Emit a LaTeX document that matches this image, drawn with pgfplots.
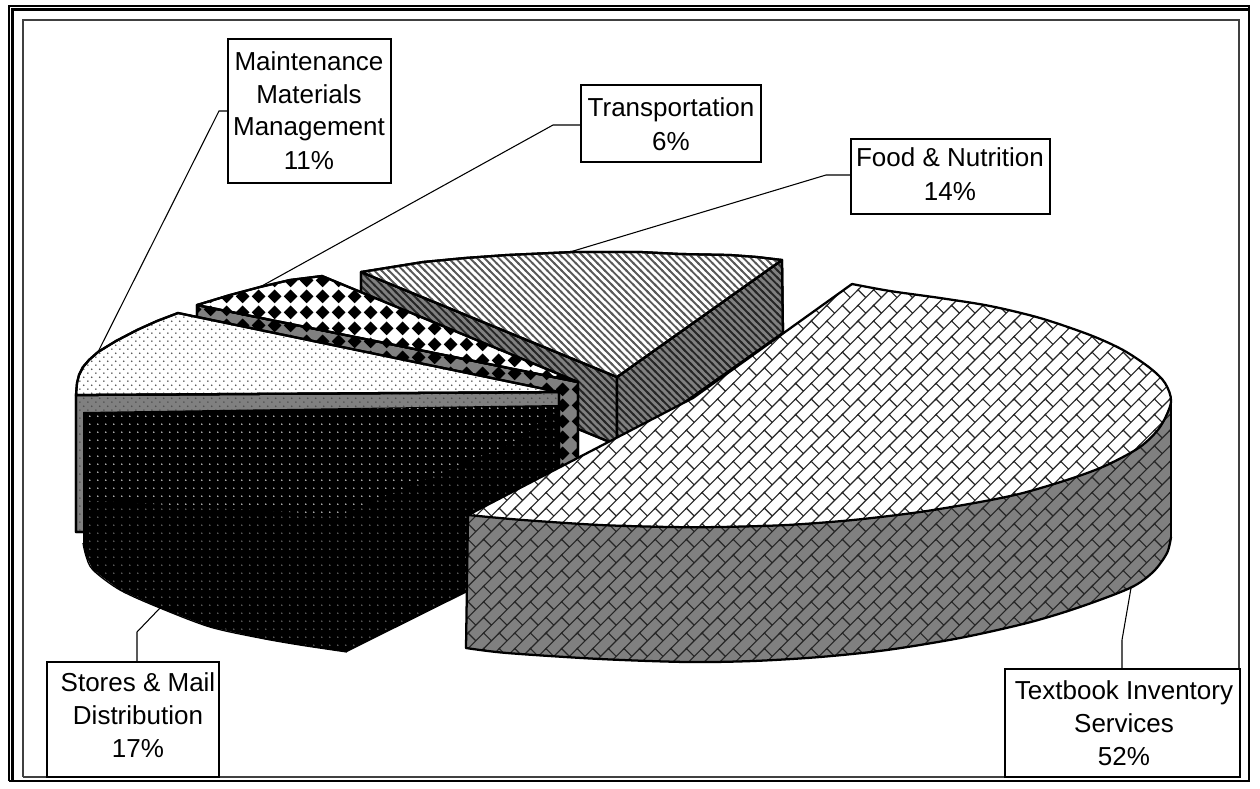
\documentclass[border=0pt]{standalone}
\usepackage{fontspec}
\setmainfont{Liberation Sans}
\usepackage{pgfplots}
\pgfplotsset{compat=1.18}
\usetikzlibrary{patterns}
\pgfdeclarepatternformonly{brickd}{\pgfqpoint{-1bp}{-1bp}}{\pgfqpoint{12.7bp}{12.7bp}}{\pgfqpoint{11.7bp}{11.7bp}}{
  \pgfsetlinewidth{0.85bp}
  \pgfpathmoveto{\pgfqpoint{-1bp}{-1bp}}\pgfpathlineto{\pgfqpoint{12.7bp}{12.7bp}}
  \pgfpathmoveto{\pgfqpoint{0bp}{11.7bp}}\pgfpathlineto{\pgfqpoint{5.85bp}{5.85bp}}
  \pgfusepath{stroke}}
\pgfdeclarepatternformonly{diam}{\pgfqpoint{0bp}{0bp}}{\pgfqpoint{11.7bp}{11.7bp}}{\pgfqpoint{11.7bp}{11.7bp}}{
  \pgfpathmoveto{\pgfqpoint{5.85bp}{0.6bp}}\pgfpathlineto{\pgfqpoint{11.1bp}{5.85bp}}
  \pgfpathlineto{\pgfqpoint{5.85bp}{11.1bp}}\pgfpathlineto{\pgfqpoint{0.6bp}{5.85bp}}\pgfpathclose
  \pgfusepath{fill}}
\pgfdeclarepatternformonly{stripesd}{\pgfqpoint{-1bp}{-1bp}}{\pgfqpoint{6.4bp}{6.4bp}}{\pgfqpoint{5.4bp}{5.4bp}}{
  \pgfsetlinewidth{1.4bp}
  \pgfpathmoveto{\pgfqpoint{-1bp}{6.4bp}}\pgfpathlineto{\pgfqpoint{6.4bp}{-1bp}}
  \pgfusepath{stroke}}
\pgfdeclarepatternformonly{mdots}{\pgfqpoint{0bp}{0bp}}{\pgfqpoint{5.85bp}{5.85bp}}{\pgfqpoint{5.85bp}{5.85bp}}{
  \pgfpathcircle{\pgfqpoint{1.46bp}{1.46bp}}{0.62bp}
  \pgfpathcircle{\pgfqpoint{4.39bp}{4.39bp}}{0.62bp}
  \pgfusepath{fill}}
\pgfdeclarepatternformonly{sdots}{\pgfqpoint{0bp}{0bp}}{\pgfqpoint{5.85bp}{5.85bp}}{\pgfqpoint{5.85bp}{5.85bp}}{
  \pgfpathcircle{\pgfqpoint{2.9bp}{2.9bp}}{0.6bp}
  \pgfusepath{fill}}
\tikzset{
  edge/.style={draw=black,line width=1.7bp,line join=round,line cap=round},
  thin edge/.style={draw=black,line width=0.8bp},
  lbl/.style={anchor=base,inner sep=0pt,font=\fontsize{19.5bp}{24bp}\selectfont},
  box/.style={draw=black,line width=0.8bp,fill=white}
}
\definecolor{side}{gray}{0.5}
\begin{document}
\begin{tikzpicture}
\useasboundingbox (0,0) rectangle (945bp,591.75bp);
\begin{axis}[at={(0,0)},anchor=south west,scale only axis,width=945bp,height=591.75bp,
  xmin=0,xmax=1260,ymin=0,ymax=789,y dir=reverse,hide axis,clip=false]
% frame
\addplot[draw=black,line width=1.6bp] coordinates {(9,781)(9,6)(1249,6)(1249,781)(9,781)};
\addplot[draw=black,line width=1.6bp] coordinates {(12.5,781)(12.5,9.5)(1249,9.5)};
\addplot[draw=black!75,line width=1.1bp] coordinates {(23,777)(23,20)(1239,20)(1239,777)(23,777)};
% Food & Nutrition
\addplot[edge,preaction={fill=side},pattern=stripesd,pattern color=black!85] coordinates {(361,272)(617,377)(617,445)(361,340)} --cycle;
\addplot[edge,preaction={fill=side},pattern=stripesd,pattern color=black!85] coordinates {(617,377)(782,260)(783,333)(617,450)} --cycle;
\addplot[edge,preaction={fill=white},pattern=stripesd,pattern color=black!65] coordinates {(361,272)(392,267)(423,262)(465,258)(507,255)(573,252)(640,252)(680,254)(730,255)(757,257)(782,260)(617,377)} --cycle;
% Transportation
\addplot[edge,preaction={fill=side},pattern=diam,pattern color=black] coordinates {(197,305)(578,382)(578,475)(197,375)} --cycle;
\addplot[edge,preaction={fill=white},pattern=diam,pattern color=black] coordinates {(197,305)(230,295)(260,287)(290,280)(322,276)(578,382)} --cycle;
% Maintenance
\addplot[edge,preaction={fill=side},pattern=mdots,pattern color=black!70] coordinates {(76,395)(559,392)(559,530)(76,532)} --cycle;
\addplot[edge,preaction={fill=white},pattern=mdots,pattern color=black!70] coordinates {(178,313)(157,321)(137,330)(116,341)(98,352)(89,360)(83,367)(79,375)(77,383)(76,395)(559,392)} --cycle;
% Stores & Mail
\addplot[draw=none,fill=black] coordinates {(83,412)(558,405)(560,546)(347,652)(300,645)(260,638)(210,627)(160,608)(120,590)(93,570)(86,556)(83,543)};
\addplot[draw=black,line width=1bp,smooth] coordinates {(347,652)(300,645)(260,638)(210,627)(160,608)(120,590)(93,570)(86,556)(83,543)};
\addplot[draw=none,pattern=sdots,pattern color=black!55!white] coordinates {(84,413)(557,406)(559,546)(347,651)(300,644)(260,637)(210,626)(160,607)(120,589)(94,570)(87,556)(84,543)};
\addplot[draw=none,fill=black] coordinates {(84,413)(557,406)(520,440)(340,515)(84,500)};
\addplot[draw=none,pattern=sdots,pattern color=white!90!black] coordinates {(84,413)(557,406)(520,440)(340,515)(84,500)};
% Textbook Inventory Services: side
\addplot[draw=none,preaction={fill=side},pattern=brickd,pattern color=black!85] coordinates {(1171,402)(1160,427)(1140,447)(1107,465)(1073,478)(1023,493)(980,502)(920,512)(853,520)(787,525)(720,527)(670,527)(600,525)(523,520)(468,515)(466,648)(507,653)(600,659)(687,662)(753,661)(820,657)(887,650)(960,638)(1027,623)(1077,608)(1130,588)(1153,572)(1167,553)(1171,537)};
\addplot[edge] coordinates {(468,515)(466,648)};
\addplot[edge] coordinates {(1171,402)(1171,537)};
\addplot[edge,smooth] coordinates {(1171,537)(1167,553)(1153,572)(1130,588)(1077,608)(1027,623)(960,638)(887,650)(820,657)(753,661)(687,662)(600,659)(507,653)(466,648)};
% top
\addplot[draw=none,preaction={fill=white},pattern=brickd,pattern color=black!85] coordinates {(852,284)(890,291)(940,298)(990,305)(1040,318)(1090,335)(1123,350)(1150,368)(1165,383)(1171,402)(1160,427)(1140,447)(1107,465)(1073,478)(1023,493)(980,502)(920,512)(853,520)(787,525)(720,527)(670,527)(600,525)(523,520)(468,515)(693,398)};
\addplot[edge,smooth] coordinates {(852,284)(890,291)(940,298)(990,306)(1040,318)(1090,335)(1123,350)(1150,368)(1165,383)(1171,402)(1160,427)(1140,447)(1107,465)(1073,478)(1023,493)(980,502)(920,512)(853,520)(787,525)(720,527)(670,527)(600,525)(523,520)(468,515)};
\addplot[edge] coordinates {(468,515)(693,398)(852,284)};
% leaders
\addplot[thin edge] coordinates {(98,352)(219,111)(228,111)};
\addplot[thin edge] coordinates {(260,287)(553,125)(581,125)};
\addplot[thin edge] coordinates {(570,252)(826,175)(851,175)};
\addplot[thin edge] coordinates {(160,608)(137,632)(137,662)};
\addplot[thin edge] coordinates {(1131,588)(1122,640)(1122,669)};
% labels
\draw[box] (axis cs:228,39) rectangle (axis cs:391,183);
\node[lbl] at (axis cs:309,70) {Maintenance};
\node[lbl] at (axis cs:309,103) {Materials};
\node[lbl] at (axis cs:309,135) {Management};
\node[lbl] at (axis cs:309,169) {11\%};
\draw[box] (axis cs:581,85) rectangle (axis cs:761,162);
\node[lbl] at (axis cs:671,116) {Transportation};
\node[lbl] at (axis cs:671,150) {6\%};
\draw[box] (axis cs:851,139) rectangle (axis cs:1050,214);
\node[lbl] at (axis cs:950,166) {Food \& Nutrition};
\node[lbl] at (axis cs:950,200) {14\%};
\draw[box] (axis cs:47,662) rectangle (axis cs:219,777);
\node[lbl] at (axis cs:138,691) {Stores \& Mail};
\node[lbl] at (axis cs:138,724) {Distribution};
\node[lbl] at (axis cs:138,757) {17\%};
\draw[box] (axis cs:1005,669) rectangle (axis cs:1240,777);
\node[lbl] at (axis cs:1124,699) {Textbook Inventory};
\node[lbl] at (axis cs:1124,732) {Services};
\node[lbl] at (axis cs:1124,765) {52\%};
\end{axis}
\end{tikzpicture}
\end{document}
